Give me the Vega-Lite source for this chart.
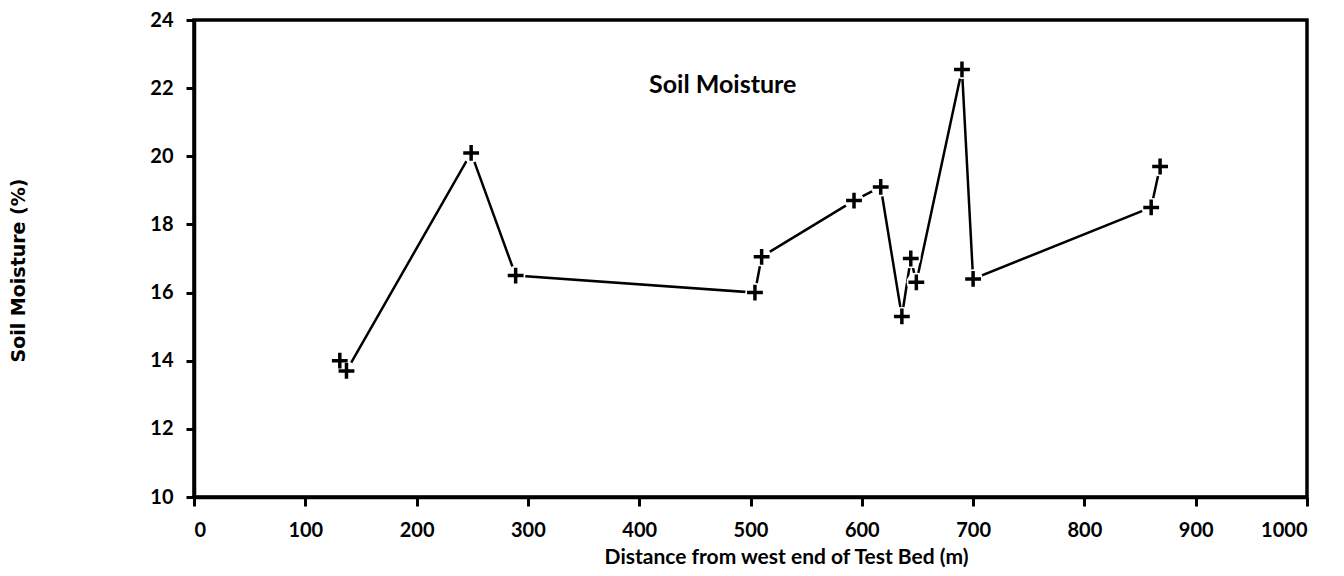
{
  "$schema": "https://vega.github.io/schema/vega-lite/v6.json",
  "width": 1113,
  "height": 477,
  "autosize": {"type": "none"},
  "padding": {"left": 194, "top": 20, "right": 37, "bottom": 79},
  "background": "white",
  "config": {
    "view": {"stroke": "black", "strokeWidth": 3.5},
    "font": "Lato",
    "axis": {
      "grid": false,
      "domainColor": "black",
      "domainWidth": 3.5,
      "tickColor": "black",
      "tickWidth": 3,
      "labelColor": "black",
      "labelFont": "Lato",
      "labelFontWeight": "bold",
      "labelFontSize": 20,
      "titleColor": "black",
      "titleFont": "Lato",
      "titleFontWeight": "bold"
    }
  },
  "datasets": {
    "moisture": [
      {"distance": 131, "moisture": 14.0},
      {"distance": 137, "moisture": 13.7},
      {"distance": 249, "moisture": 20.1},
      {"distance": 289, "moisture": 16.5},
      {"distance": 504, "moisture": 16.0},
      {"distance": 510, "moisture": 17.05},
      {"distance": 593, "moisture": 18.7},
      {"distance": 617, "moisture": 19.1},
      {"distance": 636, "moisture": 15.3},
      {"distance": 644, "moisture": 17.0},
      {"distance": 649, "moisture": 16.3},
      {"distance": 690, "moisture": 22.55},
      {"distance": 700, "moisture": 16.4},
      {"distance": 860, "moisture": 18.5},
      {"distance": 868, "moisture": 19.7}
    ],
    "label": [
      {"distance": 475, "moisture": 22.1, "text": "Soil Moisture"}
    ]
  },
  "layer": [
    {
      "data": {"name": "moisture"},
      "mark": {"type": "line", "color": "black", "strokeWidth": 2.5},
      "encoding": {
        "x": {
          "field": "distance", "type": "quantitative",
          "scale": {"domain": [0, 1000], "nice": false},
          "axis": {
            "values": [0, 100, 200, 300, 400, 500, 600, 700, 800, 900, 1000],
            "format": "d",
            "tickSize": 9, "labelPadding": 14,
            "title": "Distance from west end of Test Bed (m)",
            "titleFontSize": 21, "titlePadding": 6, "titleX": 592
          }
        },
        "y": {
          "field": "moisture", "type": "quantitative",
          "scale": {"domain": [10, 24], "nice": false, "zero": false},
          "axis": {
            "values": [10, 12, 14, 16, 18, 20, 22, 24],
            "tickSize": 8, "labelPadding": 13,
            "title": "Soil Moisture (%)",
            "titleFont": "DejaVu Sans", "titleFontSize": 19,
            "titleX": -166, "titleY": 250
          }
        }
      }
    },
    {
      "data": {"name": "moisture"},
      "mark": {"type": "point", "shape": "circle", "filled": true, "fill": "white", "strokeWidth": 0, "size": 380, "opacity": 1},
      "encoding": {
        "x": {"field": "distance", "type": "quantitative"},
        "y": {"field": "moisture", "type": "quantitative"}
      }
    },
    {
      "data": {"name": "moisture"},
      "mark": {"type": "point", "shape": "M-1,0H1M0,-1V1", "filled": false, "stroke": "black", "strokeWidth": 3.5, "size": 250, "opacity": 1},
      "encoding": {
        "x": {"field": "distance", "type": "quantitative"},
        "y": {"field": "moisture", "type": "quantitative"}
      }
    },
    {
      "data": {"name": "label"},
      "mark": {"type": "text", "font": "Lato", "fontWeight": "bold", "fontSize": 25, "color": "black", "align": "center", "baseline": "middle"},
      "encoding": {
        "x": {"field": "distance", "type": "quantitative"},
        "y": {"field": "moisture", "type": "quantitative"},
        "text": {"field": "text"}
      }
    }
  ]
}
